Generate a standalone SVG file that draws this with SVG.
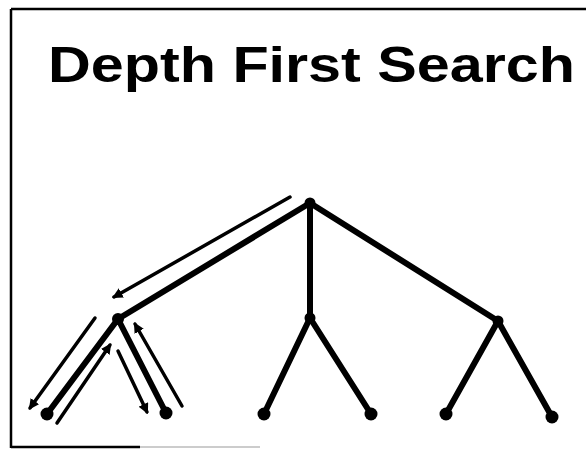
<svg xmlns="http://www.w3.org/2000/svg" width="586" height="457" viewBox="0 0 586 457">
<style>
.frame{stroke:#000;stroke-width:2.5;fill:none}
.edge{stroke:#000;stroke-width:6;stroke-linecap:round}
.arr{stroke:#000;stroke-width:3.5;stroke-linecap:round;fill:none}
.node{fill:#000}
.title{font-family:"Liberation Sans",Arial,sans-serif;font-weight:bold;font-size:50px;fill:#000}
</style>
<defs>
<marker id="ah" viewBox="0 0 10 10" refX="8" refY="5" markerWidth="3" markerHeight="3" orient="auto" markerUnits="strokeWidth">
<path d="M0,0 L10,5 L0,10 z" fill="#000"/>
</marker>
</defs>
<rect width="586" height="457" fill="#fff"/>
<g id="frame">
<line class="frame" x1="11" y1="9" x2="586" y2="9"/>
<line class="frame" x1="11" y1="9" x2="11" y2="448"/>
<line class="frame" x1="11" y1="447" x2="140" y2="447"/>
<line x1="140" y1="447" x2="260" y2="447" stroke="#ccc" stroke-width="2"/>
</g>
<text id="title" class="title" x="48" y="82" textLength="527" lengthAdjust="spacingAndGlyphs">Depth First Search</text>
<g id="connectors">
<line class="edge" x1="310" y1="203" x2="118" y2="319"/>
<line class="edge" x1="310" y1="203" x2="310" y2="318"/>
<line class="edge" x1="310" y1="203" x2="498" y2="321"/>
<line class="edge" x1="118" y1="319" x2="47" y2="414"/>
<line class="edge" x1="118" y1="319" x2="166" y2="413"/>
<line class="edge" x1="310" y1="318" x2="264" y2="414"/>
<line class="edge" x1="310" y1="318" x2="371" y2="414"/>
<line class="edge" x1="498" y1="321" x2="446" y2="414"/>
<line class="edge" x1="498" y1="321" x2="552" y2="417"/>
<line class="arr" x1="290" y1="197" x2="114" y2="297" marker-end="url(#ah)"/>
<line class="arr" x1="95" y1="318" x2="30" y2="408" marker-end="url(#ah)"/>
<line class="arr" x1="57" y1="423" x2="110" y2="345" marker-end="url(#ah)"/>
<line class="arr" x1="118" y1="351" x2="147" y2="412" marker-end="url(#ah)"/>
<line class="arr" x1="182" y1="406" x2="135" y2="324" marker-end="url(#ah)"/>
</g>
<g id="n-root"><circle class="node" cx="310" cy="203" r="5.5"/></g>
<g id="n-a"><circle class="node" cx="118" cy="319" r="6"/></g>
<g id="n-b"><circle class="node" cx="310" cy="318" r="5.5"/></g>
<g id="n-c"><circle class="node" cx="498" cy="321" r="5.5"/></g>
<g id="n-a1"><circle class="node" cx="47" cy="414" r="6.5"/></g>
<g id="n-a2"><circle class="node" cx="166" cy="413" r="6.5"/></g>
<g id="n-b1"><circle class="node" cx="264" cy="414" r="6.5"/></g>
<g id="n-b2"><circle class="node" cx="371" cy="414" r="6.5"/></g>
<g id="n-c1"><circle class="node" cx="446" cy="414" r="6.5"/></g>
<g id="n-c2"><circle class="node" cx="552" cy="417" r="6.5"/></g>
</svg>
